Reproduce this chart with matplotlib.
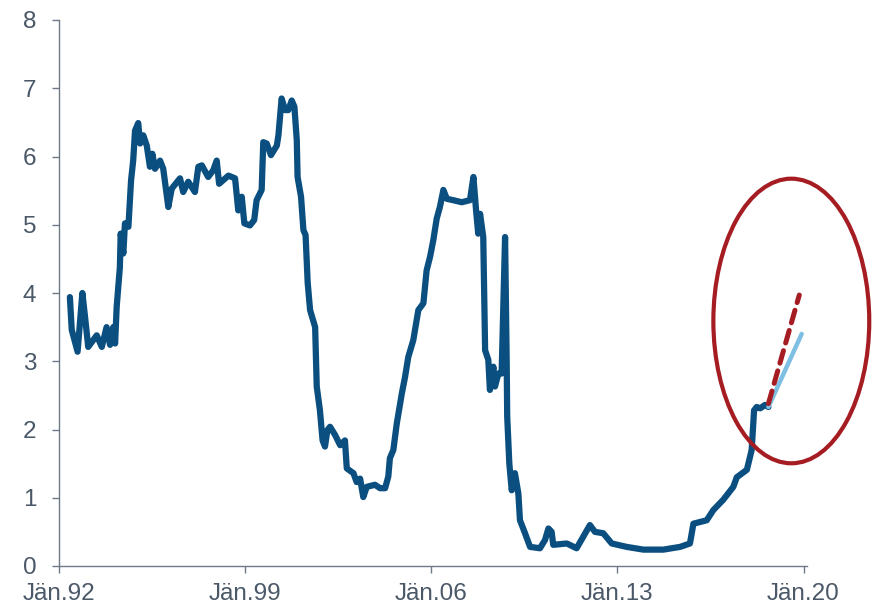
import matplotlib
matplotlib.use("Agg")
import matplotlib.pyplot as plt
from matplotlib.patches import Ellipse

plt.rcParams["font.family"] = ["Liberation Sans", "DejaVu Sans"]

# 3-month money-market rate, decimal years and percent
years = [
    1992.42, 1992.49, 1992.71, 1992.89, 1992.99, 1993.11, 1993.43, 1993.62, 1993.80, 1993.93,
    1994.05, 1994.12, 1994.18, 1994.30, 1994.33, 1994.43, 1994.49, 1994.62, 1994.72, 1994.80,
    1994.87, 1994.99, 1995.06, 1995.18, 1995.31, 1995.43, 1995.52, 1995.62, 1995.81, 1995.93,
    1996.12, 1996.25, 1996.56, 1996.68, 1996.87, 1997.12, 1997.25, 1997.38, 1997.62, 1997.81,
    1997.94, 1998.03, 1998.38, 1998.63, 1998.75, 1998.88, 1998.98, 1999.19, 1999.35, 1999.44,
    1999.63, 1999.69, 1999.82, 1999.98, 2000.20, 2000.26, 2000.38, 2000.51, 2000.63, 2000.76,
    2000.86, 2000.95, 2000.98, 2001.11, 2001.20, 2001.28, 2001.36, 2001.45, 2001.64, 2001.70,
    2001.82, 2001.92, 2002.01, 2002.10, 2002.20, 2002.39, 2002.58, 2002.76, 2002.83, 2003.08,
    2003.20, 2003.33, 2003.45, 2003.58, 2003.89, 2004.08, 2004.27, 2004.39, 2004.45, 2004.58,
    2004.71, 2004.90, 2005.02, 2005.14, 2005.33, 2005.52, 2005.71, 2005.83, 2005.96, 2006.08,
    2006.21, 2006.33, 2006.46, 2006.59, 2006.83, 2007.15, 2007.46, 2007.59, 2007.69, 2007.77,
    2007.84, 2007.96, 2008.03, 2008.15, 2008.21, 2008.34, 2008.40, 2008.53, 2008.65, 2008.78,
    2008.84, 2008.86, 2008.94, 2009.03, 2009.15, 2009.28, 2009.34, 2009.53, 2009.72, 2010.09,
    2010.28, 2010.41, 2010.53, 2010.59, 2011.10, 2011.47, 2011.72, 2011.97, 2012.16, 2012.47,
    2012.79, 2013.35, 2013.98, 2014.73, 2015.36, 2015.73, 2015.86, 2016.36, 2016.61, 2016.98,
    2017.36, 2017.49, 2017.87, 2018.05, 2018.14, 2018.24, 2018.37, 2018.55, 2018.68,
]
rates = [
    3.94, 3.46, 3.14, 4.00, 3.65, 3.21, 3.38, 3.21, 3.50, 3.24,
    3.50, 3.26, 3.80, 4.38, 4.87, 4.58, 5.02, 4.97, 5.65, 5.94,
    6.38, 6.49, 6.19, 6.31, 6.16, 5.85, 6.04, 5.82, 5.94, 5.82,
    5.26, 5.53, 5.68, 5.48, 5.63, 5.48, 5.85, 5.87, 5.70, 5.80,
    5.94, 5.60, 5.72, 5.68, 5.21, 5.41, 5.02, 4.99, 5.07, 5.36,
    5.51, 6.21, 6.19, 6.02, 6.16, 6.31, 6.85, 6.68, 6.68, 6.82,
    6.73, 6.24, 5.70, 5.41, 4.92, 4.85, 4.15, 3.75, 3.50, 2.63,
    2.28, 1.84, 1.75, 1.99, 2.04, 1.92, 1.77, 1.84, 1.43, 1.36,
    1.23, 1.28, 1.01, 1.16, 1.19, 1.14, 1.14, 1.31, 1.58, 1.70,
    2.09, 2.53, 2.77, 3.06, 3.31, 3.75, 3.85, 4.33, 4.53, 4.77,
    5.09, 5.26, 5.51, 5.38, 5.36, 5.33, 5.36, 5.70, 5.21, 4.87,
    5.16, 4.82, 3.16, 3.02, 2.58, 2.92, 2.63, 2.82, 2.82, 4.82,
    3.02, 2.19, 1.50, 1.11, 1.36, 1.06, 0.67, 0.48, 0.28, 0.26,
    0.38, 0.55, 0.50, 0.31, 0.33, 0.26, 0.43, 0.60, 0.50, 0.48,
    0.33, 0.28, 0.24, 0.24, 0.28, 0.33, 0.62, 0.67, 0.82, 0.97,
    1.16, 1.30, 1.41, 1.70, 2.28, 2.33, 2.31, 2.36, 2.33,
]

# Outlook paths
forward_years = [2018.68, 2019.93]
forward_rates = [2.33, 3.40]
scenario_years = [2018.68, 2019.84]
scenario_rates = [2.38, 3.97]

tick_years = [1992, 1999, 2006, 2013, 2020]
tick_labels = ["Jän.92", "Jän.99", "Jän.06", "Jän.13", "Jän.20"]

# Highlight ring around the outlook
ring_center = (2019.54, 3.59)
ring_width = 5.86
ring_height = 4.17

dark_blue = "#0b4f80"
light_blue = "#80bfe4"
dark_red = "#a51d22"
text_grey = "#4a5868"
axis_grey = "#6e7a87"

fig = plt.figure(figsize=(8.77, 6.04), dpi=100)
ax = fig.add_axes([58.7 / 877, 1 - 566 / 604, (807 - 58.7) / 877, (566 - 20) / 604])

ax.plot(years, rates, color=dark_blue, lw=4.5, solid_joinstyle="round",
        solid_capstyle="round", zorder=3)
ax.plot(forward_years, forward_rates, color=light_blue, lw=3.2,
        solid_capstyle="round", zorder=4)
ax.plot(scenario_years, scenario_rates, color=dark_red, lw=3.6,
        dashes=(2.6, 1.6), dash_capstyle="round", zorder=5)

ring = Ellipse(ring_center, ring_width, ring_height, fill=False,
               edgecolor=dark_red, lw=3.0, clip_on=False, zorder=6)
ax.add_patch(ring)

ax.set_xlim(1992, 2020.13)
ax.set_ylim(0, 8)
ax.set_yticks(range(0, 9))
ax.set_xticks(tick_years)
ax.set_xticklabels(tick_labels)

for side in ("top", "right"):
    ax.spines[side].set_visible(False)
for side in ("left", "bottom"):
    ax.spines[side].set_color(axis_grey)
    ax.spines[side].set_linewidth(1.0)

ax.tick_params(axis="both", direction="out", length=5, width=1.0,
               color=axis_grey, labelcolor=text_grey, labelsize=17.5)
ax.tick_params(axis="y", pad=11)
ax.tick_params(axis="x", pad=7)

fig.savefig("out.png", dpi=100)
